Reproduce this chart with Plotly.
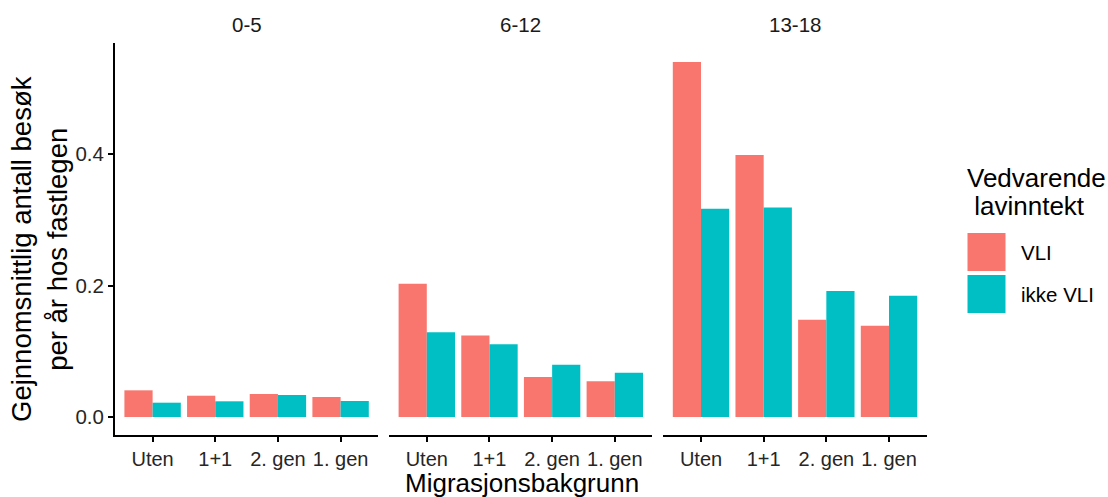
import plotly.graph_objects as go

W, H = 1108, 497

# Data: mean GP visits per year, by age group, migration background and low-income status
age_groups = ["0-5", "6-12", "13-18"]
migration = ["Uten", "1+1", "2. gen", "1. gen"]

vli_0_5 = [0.0406, 0.0324, 0.0350, 0.0304]
ikke_0_5 = [0.0218, 0.0239, 0.0335, 0.0243]

vli_6_12 = [0.2028, 0.1240, 0.0610, 0.0543]
ikke_6_12 = [0.1290, 0.1106, 0.0795, 0.0674]

vli_13_18 = [0.5405, 0.3988, 0.1480, 0.1390]
ikke_13_18 = [0.3170, 0.3190, 0.1917, 0.1845]

series_labels = ["VLI", "ikke VLI"]
colors = ["#F8766D", "#00BFC4"]

y_ticks = [0.0, 0.2, 0.4]
y_tick_text = ["0.0", "0.2", "0.4"]

FONT = "Liberation Sans, Arial, sans-serif"
TXT = "#1a1a1a"
AX = "#262626"


def px_x(v):
    return v / W


def px_y(v):
    return 1 - v / H


# panel geometry (pixels)
panel_left = 115.0
panel_w = 263.2
gap = 11.0
plot_top, plot_bottom = 43.3, 435.0
y_range = [-0.0274, 0.5688]

panels = [
    (vli_0_5, ikke_0_5),
    (vli_6_12, ikke_6_12),
    (vli_13_18, ikke_13_18),
]

fig = go.Figure()
layout = dict(
    width=W, height=H,
    margin=dict(l=0, r=0, t=0, b=0),
    paper_bgcolor="white", plot_bgcolor="white",
    barmode="group", bargap=0.1, bargroupgap=0.0,
    showlegend=False,
    font=dict(family=FONT, color=TXT),
)

annotations = []
shapes = []

for i, (vli, ikke) in enumerate(panels):
    n = "" if i == 0 else str(i + 1)
    xa, ya = "x" + n, "y" + n
    x0 = panel_left + i * (panel_w + gap)
    x1 = x0 + panel_w
    for vals, name, col in zip((vli, ikke), series_labels, colors):
        fig.add_trace(go.Bar(
            x=migration, y=vals, name=name, marker_color=col,
            marker_line_width=0, xaxis=xa, yaxis=ya,
            offsetgroup=name,
        ))
    layout["xaxis" + n] = dict(
        domain=[px_x(x0), px_x(x1)], anchor=ya,
        type="category", range=[-0.6, 3.6],
        showline=True, linecolor="black", linewidth=2,
        ticks="outside", ticklen=5, tickwidth=2, tickcolor="black",
        tickfont=dict(size=20, color=AX, family=FONT),
        showgrid=False, zeroline=False, fixedrange=True,
    )
    yax = dict(
        domain=[px_y(plot_bottom), px_y(plot_top)], anchor=xa,
        range=y_range, showgrid=False, zeroline=False, fixedrange=True,
    )
    if i == 0:
        yax.update(
            showline=True, linecolor="black", linewidth=2,
            ticks="outside", ticklen=5, tickwidth=2, tickcolor="black",
            tickvals=y_ticks, ticktext=y_tick_text,
            tickfont=dict(size=20.5, color=AX, family=FONT),
        )
    else:
        yax.update(showline=False, showticklabels=False, ticks="")
    layout["yaxis" + n] = yax

    # facet strip label
    annotations.append(dict(
        text=age_groups[i], xref="paper", yref="paper",
        x=px_x((x0 + x1) / 2), y=px_y(24.5),
        xanchor="center", yanchor="middle", showarrow=False,
        font=dict(size=20.5, color=TXT, family=FONT),
    ))

# axis titles
annotations.append(dict(
    text="Migrasjonsbakgrunn", xref="paper", yref="paper",
    x=px_x(521.5), y=px_y(483), xanchor="center", yanchor="middle",
    showarrow=False, font=dict(size=26, color="black", family=FONT),
))
annotations.append(dict(
    text="Gejnnomsnittlig antall besøk<br>per år hos fastlegen",
    xref="paper", yref="paper", x=px_x(40), y=px_y(249),
    xanchor="center", yanchor="middle", textangle=-90,
    showarrow=False, font=dict(size=27.5, color="black", family=FONT),
))

# legend
annotations.append(dict(
    text="Vedvarende", xref="paper", yref="paper",
    x=px_x(965), y=px_y(178), xanchor="left", yanchor="middle",
    showarrow=False, font=dict(size=26, color="black", family=FONT),
))
annotations.append(dict(
    text=" lavinntekt", xref="paper", yref="paper",
    x=px_x(965), y=px_y(206), xanchor="left", yanchor="middle",
    showarrow=False, font=dict(size=26, color="black", family=FONT),
))
key_tops = [233, 275]
for top, lab, col in zip(key_tops, series_labels, colors):
    shapes.append(dict(
        type="rect", xref="paper", yref="paper",
        x0=px_x(967.5), x1=px_x(1005.5), y0=px_y(top + 38), y1=px_y(top),
        fillcolor=col, line=dict(width=0),
    ))
    annotations.append(dict(
        text=lab, xref="paper", yref="paper",
        x=px_x(1019), y=px_y(top + 19), xanchor="left", yanchor="middle",
        showarrow=False, font=dict(size=20.5, color="black", family=FONT),
    ))

layout["annotations"] = annotations
layout["shapes"] = shapes
fig.update_layout(**layout)

fig.write_html("out.html")
